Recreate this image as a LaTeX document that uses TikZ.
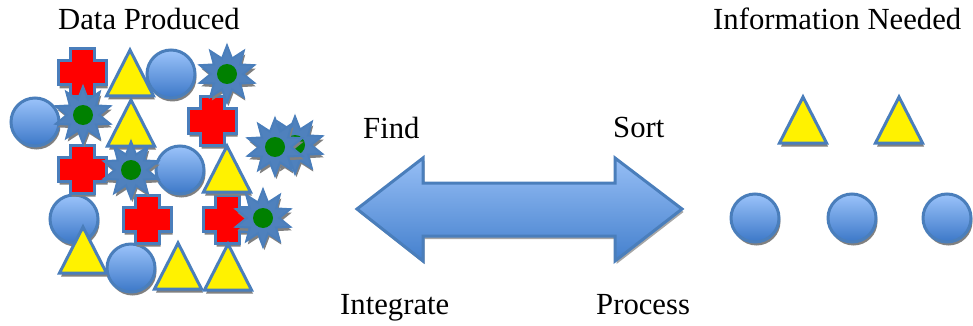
\documentclass[tikz,border=0pt]{standalone}
\usepackage{fontspec}
\setmainfont{Liberation Serif}
\usetikzlibrary{shapes.geometric}
\definecolor{edgeblue}{RGB}{74,126,187}
\definecolor{starblue}{RGB}{79,129,189}
\definecolor{ballTop}{RGB}{155,195,250}
\definecolor{ballBot}{RGB}{60,120,200}
\definecolor{arrTop}{RGB}{150,190,245}
\definecolor{arrBot}{RGB}{68,128,205}
\definecolor{shadowgray}{RGB}{128,128,128}
\definecolor{dotgreen}{RGB}{0,128,0}
\tikzset{
  lbl/.style={font=\fontsize{30.7}{36}\selectfont, inner sep=0pt, anchor=base west},
  outl/.style={draw=edgeblue, line width=3pt, line join=miter},
  ball/.pic={
    \fill[shadowgray] (1.5,3.5) circle[radius=24];
    \shade[top color=ballTop, bottom color=ballBot, outl] (0,0) circle[radius=24];
  },
  plusmark/.pic={
    \fill[shadowgray, shift={(1.5,3.5)}] (-12,-24) -- (12,-24) -- (12,-12) -- (24,-12) -- (24,12) -- (12,12) -- (12,24) -- (-12,24) -- (-12,12) -- (-24,12) -- (-24,-12) -- (-12,-12) -- cycle;
    \filldraw[fill=red, outl] (-12,-24) -- (12,-24) -- (12,-12) -- (24,-12) -- (24,12) -- (12,12) -- (12,24) -- (-12,24) -- (-12,12) -- (-24,12) -- (-24,-12) -- (-12,-12) -- cycle;
  },
  tri/.pic={
    \fill[shadowgray, shift={(1.5,3.5)}] (0,-23) -- (23.5,23) -- (-23.5,23) -- cycle;
    \filldraw[fill=yellow, outl] (0,-23) -- (23.5,23) -- (-23.5,23) -- cycle;
  },
  burst/.pic={
    \node[star, star points=10, star point ratio=1.75, minimum size=57pt, inner sep=0pt, fill=shadowgray] at (1.5,3.5) {};
    \node[star, star points=10, star point ratio=1.75, minimum size=57pt, inner sep=0pt, fill=starblue, draw=edgeblue, line width=2pt] at (0,0) {};
    \fill[dotgreen] (0,0) circle[radius=10];
  }
}
\begin{document}
\begin{tikzpicture}[x=1pt, y=-1pt]
\useasboundingbox (0,0) rectangle (973,326);
% labels
\node[lbl] (dp) at (58,30) {Data Produced};
\node[lbl] (in) at (713,30) {Information Needed};
\node[lbl] (find) at (363,138) {Find};
\node[lbl] (sort) at (613,137) {Sort};
\node[lbl] (integ) at (340,314) {Integrate};
\node[lbl] (proc) at (596,314) {Process};
% circles
\pic (c1) at (171,74) {ball};
\pic (c2) at (35,122) {ball};
\pic (c3) at (180,170) {ball};
\pic (c4) at (74,219) {ball};
\pic (c5) at (131,268) {ball};
% crosses
\pic (x1) at (82,73) {plusmark};
\pic (x2) at (212,121) {plusmark};
\pic (x3) at (82,169) {plusmark};
\pic (x4) at (147,219) {plusmark};
\pic (x5) at (227,219) {plusmark};
% triangles
\pic (t1) at (130,73) {tri};
\pic (t2) at (131,123) {tri};
\pic (t3) at (227,169) {tri};
\pic (t4) at (83,250) {tri};
\pic (t5) at (178,266) {tri};
\pic (t6) at (228,267) {tri};
% stars
\pic (s1) at (227,74) {burst};
\pic (s2) at (83,115) {burst};
\pic (s3) at (131,170) {burst};
\pic (s4a) at (295,145) {burst};
\pic (s4b) at (275,147) {burst};
\pic (s5) at (263,218) {burst};
% arrow
\fill[shadowgray!70, shift={(1.5,3)}] (357,209) -- (423,158) -- (423,183) -- (615,183) -- (615,158) -- (682,209) -- (615,261) -- (615,236) -- (423,236) -- (423,261) -- cycle;
\shade[top color=arrTop, bottom color=arrBot, outl] (357,209) -- (423,158) -- (423,183) -- (615,183) -- (615,158) -- (682,209) -- (615,261) -- (615,236) -- (423,236) -- (423,261) -- cycle;
% needed information
\pic (rt1) at (803,120) {tri};
\pic (rt2) at (899,120) {tri};
\pic (rc1) at (755,218) {ball};
\pic (rc2) at (852,218) {ball};
\pic (rc3) at (947,218) {ball};
\end{tikzpicture}
\end{document}
